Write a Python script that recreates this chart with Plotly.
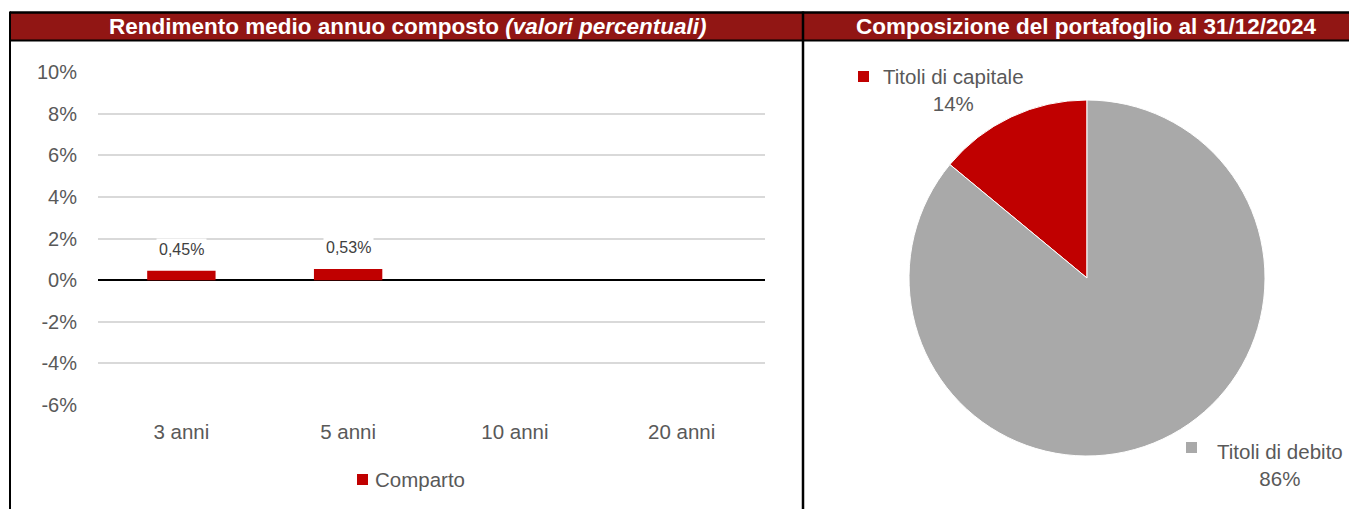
import plotly.graph_objects as go

# ---- data ----
categories = ["3 anni", "5 anni", "10 anni", "20 anni"]
comparto = [0.45, 0.53, None, None]
series_name = "Comparto"
tick_vals = [-6, -4, -2, 0, 2, 4, 6, 8, 10]
tick_text = ["-6%", "-4%", "-2%", "0%", "2%", "4%", "6%", "8%", "10%"]
pie_labels = ["Titoli di capitale", "Titoli di debito"]
pie_values = [14, 86]
title_left = "Rendimento medio annuo composto <i>(valori percentuali)</i>"
title_right = "Composizione del portafoglio al 31/12/2024"

W, H = 1357, 509
OFF = 8  # page body margin
RED = "#C00000"
GREY = "#A9A9A9"
HDR = "#911614"
TXT = "#595959"
FONT = "Liberation Sans, Arial, sans-serif"

def px(x):
    return (x - OFF) / W

def py(y):
    return 1 - (y - OFF) / H

fig = go.Figure()

fig.add_trace(go.Bar(
    x=categories, y=comparto, name=series_name,
    marker=dict(color=RED, line=dict(width=0)),
    width=0.41, xaxis="x", yaxis="y", showlegend=False,
))

# first slice ends at 12 o'clock, sweeping clockwise (i.e. lies to the left of 12)
first_share = pie_values[0] / sum(pie_values)
fig.add_trace(go.Pie(
    labels=pie_labels, values=pie_values, sort=False,
    direction="clockwise", rotation=-360 * first_share,
    marker=dict(colors=[RED, GREY], line=dict(color="white", width=1)),
    textinfo="none", hoverinfo="label+percent", showlegend=False,
    domain=dict(x=[px(909), px(1265)], y=[py(456), py(100)]),
))

annotations = []
# bar data labels
for c, v in zip(categories, comparto):
    if v is None:
        continue
    annotations.append(dict(
        x=c, y=v, xref="x", yref="y", xanchor="center", yanchor="bottom", yshift=10,
        text=("%.2f%%" % v).replace(".", ","), showarrow=False,
        bgcolor="white", borderpad=2,
        font=dict(family=FONT, size=16, color="#404040"),
    ))

# headers
annotations.append(dict(x=px(408), y=py(27), xref="paper", yref="paper",
                        xanchor="center", yanchor="middle",
                        text="<b>" + title_left + "</b>", showarrow=False,
                        font=dict(family=FONT, size=22.5, color="white")))
annotations.append(dict(x=px(1086), y=py(27), xref="paper", yref="paper",
                        xanchor="center", yanchor="middle",
                        text="<b>" + title_right + "</b>", showarrow=False,
                        font=dict(family=FONT, size=22.5, color="white")))

# pie labels
pie_label_pos = [(953, 90), (1280, 465)]
for lab, val, (lx, ly) in zip(pie_labels, pie_values, pie_label_pos):
    annotations.append(dict(x=px(lx), y=py(ly), xref="paper", yref="paper",
                            xanchor="center", yanchor="middle",
                            text=f"{lab}<br>{val}%", showarrow=False, align="center",
                            font=dict(family=FONT, size=20.5, color=TXT)))

# bar legend text
annotations.append(dict(x=px(373), y=py(479.5), xref="paper", yref="paper",
                        xanchor="left", yanchor="middle", text=series_name,
                        showarrow=False, font=dict(family=FONT, size=20.5, color=TXT)))

shapes = [
    # header band
    dict(type="rect", xref="paper", yref="paper", x0=px(10), x1=px(1370),
         y0=py(40), y1=py(12.5), fillcolor=HDR, line=dict(width=0), layer="below"),
    # frame lines
    dict(type="line", xref="paper", yref="paper", x0=px(10), x1=px(1370),
         y0=py(12.5), y1=py(12.5), line=dict(color="black", width=2.5)),
    dict(type="line", xref="paper", yref="paper", x0=px(10), x1=px(1370),
         y0=py(40.5), y1=py(40.5), line=dict(color="black", width=2)),
    dict(type="line", xref="paper", yref="paper", x0=px(10), x1=px(10),
         y0=py(11.5), y1=py(520), line=dict(color="black", width=2)),
    dict(type="line", xref="paper", yref="paper", x0=px(803), x1=px(803),
         y0=py(11.5), y1=py(520), line=dict(color="black", width=2.5)),
    # legend keys
    dict(type="rect", xref="paper", yref="paper", x0=px(357), x1=px(368),
         y0=py(485), y1=py(474), fillcolor=RED, line=dict(width=0)),
    dict(type="rect", xref="paper", yref="paper", x0=px(858), x1=px(869),
         y0=py(82), y1=py(71), fillcolor=RED, line=dict(width=0)),
    dict(type="rect", xref="paper", yref="paper", x0=px(1186), x1=px(1197),
         y0=py(453), y1=py(442), fillcolor=GREY, line=dict(width=0)),
]

fig.update_layout(
    template="none",
    width=W, height=H, autosize=False,
    margin=dict(l=0, r=0, t=0, b=0, pad=0),
    paper_bgcolor="white", plot_bgcolor="white",
    font=dict(family=FONT, size=16, color=TXT),
    separators=",.",
    showlegend=False,
    xaxis=dict(domain=[px(98), px(765)], anchor="y", showgrid=False,
               showline=False, ticks="", tickfont=dict(size=20.5, color=TXT),
               ticklabelstandoff=12, automargin=False, fixedrange=True),
    yaxis=dict(domain=[py(405), py(72)], anchor="x", range=[-6, 10],
               tickvals=tick_vals, ticktext=tick_text,
               showgrid=True, gridcolor="#D9D9D9", gridwidth=1.5,
               zeroline=True, zerolinecolor="black", zerolinewidth=2,
               showline=False, ticks="", ticklabelstandoff=20,
               tickfont=dict(size=20, color=TXT), automargin=False,
               fixedrange=True),
    annotations=annotations,
    shapes=shapes,
)

fig.write_html("out.html", config={"responsive": False})
